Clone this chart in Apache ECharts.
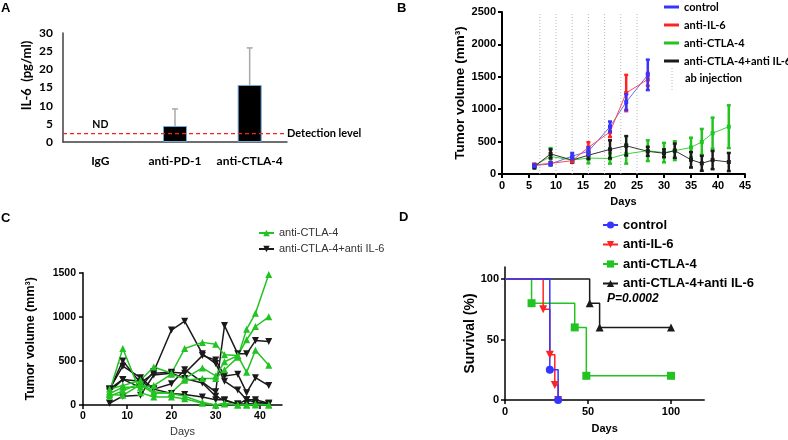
<!DOCTYPE html>
<html><head><meta charset="utf-8">
<script src="https://cdn.jsdelivr.net/npm/echarts@6/dist/echarts.min.js"></script>
<style>html,body{margin:0;padding:0;background:#fff}#c{width:788px;height:440px}</style>
</head><body><div id="c"></div>
<script>
// ---------- Panel A ----------
const aCategories = ['IgG', 'anti-PD-1', 'anti-CTLA-4'];
const aMeans = [null, 4.4, 15.7];
const aErrors = [null, 4.7, 10.2];
const aDetectionLevel = 2.3;
const aNDLevel = 4.7;
const aYTicks = [0, 30, 5];

// ---------- Panel B ----------
const bInjectionDays = [7, 10, 13, 16, 19, 22, 25];
const bDaysShort = [6, 9, 13, 16, 20, 23, 27];
const bDaysLong = [6, 9, 13, 16, 20, 23, 27, 30, 32, 35, 37, 39, 42];
const bControlMean = [130, 155, 275, 350, 730, 1110, 1530];
const bControlErr  = [20, 25, 50, 60, 80, 120, 235];
const bIL6Mean = [140, 165, 205, 410, 650, 1250, 1460];
const bIL6Err  = [20, 20, 25, 80, 80, 280, 100];
const bCTLA4Mean = [130, 270, 215, 245, 240, 310, 360, 330, 360, 410, 495, 630, 730];
const bCTLA4Err  = [20, 130, 40, 80, 80, 150, 160, 150, 145, 150, 200, 240, 330];
const bComboMean = [115, 310, 215, 290, 380, 435, 350, 320, 360, 220, 165, 215, 185];
const bComboErr  = [30, 70, 40, 60, 140, 150, 70, 60, 110, 120, 115, 140, 140];

// ---------- Panel C ----------
const cDays = [6, 9, 13, 16, 20, 23, 27, 30, 32, 35, 37, 39, 42];
const cCTLA4Mouse1 = [120, 110, 230, 130, 140, 280, 300, 300, 400, 540, 860, 1040, 1480];
const cCTLA4Mouse2 = [180, 220, 280, 430, 360, 640, 710, 690, 570, 560, 740, 890, 1000];
const cCTLA4Mouse3 = [130, 200, 200, 220, 350, 300, 420, 330, 490, 560, 370, 620, 450];
const cCTLA4Mouse4 = [150, 640, 140, 90, 90, 70, 20, 0, 10, 0, 0, 0, 0];
const cCTLA4Mouse5 = [100, 160, 250, 150, 130, 100, 30, 0, 20, 0, 0, 10, 0];
const cComboMouse1 = [180, 290, 200, 380, 850, 950, 580, 470, 270, 170, 60, 30, 20];
const cComboMouse2 = [180, 440, 310, 180, 240, 400, 260, 150, 900, 580, 580, 730, 720];
const cComboMouse3 = [170, 500, 250, 360, 370, 360, 560, 510, 330, 350, 140, 310, 220];
const cComboMouse4 = [150, 290, 270, 180, 130, 120, 90, 60, 60, 10, 10, 20, 10];
const cComboMouse5 = [20, 100, 110, 340, 360, 300, 250, 100, 50, 10, 60, 60, 20];

// ---------- Panel D ----------
const dControlDays = [0, 27, 32];
const dControlSurv = [100, 25, 0];
const dIL6Days = [0, 23, 27, 30, 32];
const dIL6Surv = [100, 75, 37.5, 12.5, 0];
const dCTLA4Days = [0, 16, 42, 49, 100];
const dCTLA4Surv = [100, 80, 60, 20, 20];
const dComboDays = [0, 51, 57, 100];
const dComboSurv = [100, 80, 60, 60];
const dTicks = [0, 50, 100];
const cXTicks = [0, 10, 20, 30, 40];

// ---------- colours / fonts ----------
const ARIAL = 'Liberation Sans';
const CAL = 'Lato';
const BLUE = '#3535ff', RED = '#ff2424', GREEN = '#22c322', BLACK = '#1a1a1a';
const plain = v => String(v);

const chart = echarts.init(document.getElementById('c'));

function pairs(xs, ys) { return xs.map((x, i) => [x, ys[i]]); }
function triples(xs, ys, es) { return xs.map((x, i) => [x, ys[i], es[i]]); }

function errBar(color, lw, capW, mark, upOnly) {
  return function (params, api) {
    const x = api.value(0), m = api.value(1), e = api.value(2);
    const top = api.coord([x, m + e]);
    const mid = api.coord([x, m]);
    const bot = upOnly ? mid : api.coord([x, m - e]);
    const st = { stroke: color, lineWidth: lw };
    const ch = [
      { type: 'line', shape: { x1: top[0], y1: top[1], x2: bot[0], y2: bot[1] }, style: st },
      { type: 'line', shape: { x1: top[0] - capW / 2, y1: top[1], x2: top[0] + capW / 2, y2: top[1] }, style: st }
    ];
    if (!upOnly) ch.push({ type: 'line', shape: { x1: bot[0] - capW / 2, y1: bot[1], x2: bot[0] + capW / 2, y2: bot[1] }, style: st });
    if (mark) ch.push({ type: 'rect', shape: { x: mid[0] - mark / 2, y: mid[1] - mark / 2, width: mark, height: mark }, style: { fill: color } });
    return { type: 'group', children: ch };
  };
}

const downTri = 'path://M0,0 L10,0 L5,9 Z';

function axisCommon(width, color) {
  return {
    axisLine: { show: true, onZero: false, lineStyle: { color: color || '#000', width: width } },
    axisTick: { show: true, inside: false, length: 4, lineStyle: { color: color || '#000', width: width } },
    splitLine: { show: false }
  };
}

function cSeries(name, data, color, symbol) {
  return {
    type: 'line', name: name, xAxisIndex: 2, yAxisIndex: 2,
    data: pairs(cDays, data), color: color,
    lineStyle: { width: 1.5, color: color }, symbol: symbol, symbolSize: 7,
    itemStyle: { color: color }, z: 3
  };
}

function kmSeries(name, days, surv, color, symbol, size) {
  return {
    type: 'line', name: name, xAxisIndex: 3, yAxisIndex: 3, step: 'end',
    data: days.map((d, i) => i === 0 ? { value: [d, surv[i]], symbol: 'none' } : [d, surv[i]]),
    color: color, lineStyle: { width: 1.5, color: color }, itemStyle: { color: color },
    symbol: symbol, symbolSize: size, z: 3
  };
}

const tickLblB = { fontFamily: ARIAL, fontWeight: 'bold', fontSize: 11, color: '#000', formatter: plain };

const option = {
  animation: false,
  backgroundColor: '#fff',
  grid: [
    { left: 63, top: 33, width: 224, height: 109 },
    { left: 502, top: 12, width: 243, height: 162 },
    { left: 83, top: 272.7, width: 199, height: 132.3 },
    { left: 505, top: 266.9, width: 199.2, height: 133.1 }
  ],
  xAxis: [
    Object.assign(axisCommon(1.5, '#404040'), {
      type: 'category', gridIndex: 0, data: aCategories,
      axisTick: { show: false },
      axisLabel: { interval: 0, fontFamily: CAL, fontWeight: 'bold', fontSize: 12, color: '#000', margin: 13 }
    }),
    Object.assign(axisCommon(2), {
      type: 'value', gridIndex: 1, min: 0, max: 45, interval: 5,
      axisLabel: Object.assign({ margin: 6 }, tickLblB),
      name: 'Days', nameLocation: 'middle', nameGap: 22,
      nameTextStyle: { fontFamily: ARIAL, fontWeight: 'bold', fontSize: 11, color: '#000' }
    }),
    Object.assign(axisCommon(1.5), {
      type: 'value', gridIndex: 2, min: 0, max: 45,
      axisTick: { show: true, length: 4, customValues: cXTicks, lineStyle: { color: '#000', width: 1.5 } },
      axisLabel: { customValues: cXTicks, formatter: plain, margin: 6, fontFamily: ARIAL, fontWeight: 'bold', fontSize: 10.5, color: '#000' },
      name: 'Days', nameLocation: 'middle', nameGap: 21,
      nameTextStyle: { fontFamily: ARIAL, fontSize: 11, color: '#333' }
    }),
    Object.assign(axisCommon(1.5), {
      type: 'value', gridIndex: 3, min: 0, max: 120,
      axisTick: { show: true, length: 4, customValues: dTicks, lineStyle: { color: '#000', width: 1.5 } },
      axisLabel: { customValues: dTicks, formatter: plain, margin: 6, fontFamily: ARIAL, fontWeight: 'bold', fontSize: 11, color: '#000' },
      name: 'Days', nameLocation: 'middle', nameGap: 23,
      nameTextStyle: { fontFamily: ARIAL, fontWeight: 'bold', fontSize: 11, color: '#000' }
    })
  ],
  yAxis: [
    Object.assign(axisCommon(1.5, '#404040'), {
      type: 'value', gridIndex: 0, min: aYTicks[0], max: aYTicks[1], interval: aYTicks[2],
      axisTick: { show: false },
      axisLabel: { formatter: plain, fontFamily: CAL, fontWeight: 'bold', fontSize: 12, color: '#000', margin: 10 },
      name: 'IL-6  (pg/ml)', nameLocation: 'middle', nameGap: 30,
      nameTextStyle: { fontFamily: CAL, fontWeight: 'bold', fontSize: 13, color: '#000', padding: [0, 0, 0, 24] }
    }),
    Object.assign(axisCommon(2), {
      type: 'value', gridIndex: 1, min: 0, max: 2500, interval: 500,
      axisLabel: Object.assign({ margin: 6 }, tickLblB),
      name: 'Tumor volume (mm³)', nameLocation: 'middle', nameGap: 28,
      nameTextStyle: { fontFamily: ARIAL, fontWeight: 'bold', fontSize: 13.5, color: '#000' }
    }),
    Object.assign(axisCommon(1.5), {
      type: 'value', gridIndex: 2, min: 0, max: 1500, interval: 500,
      axisLabel: { formatter: plain, margin: 7, fontFamily: ARIAL, fontWeight: 'bold', fontSize: 10.5, color: '#000' },
      name: 'Tumor volume (mm³)', nameLocation: 'middle', nameGap: 46,
      nameTextStyle: { fontFamily: ARIAL, fontWeight: 'bold', fontSize: 12.5, color: '#000' }
    }),
    Object.assign(axisCommon(1.5), {
      type: 'value', gridIndex: 3, min: 0, max: 110,
      axisTick: { show: true, length: 4, customValues: dTicks, lineStyle: { color: '#000', width: 1.5 } },
      axisLabel: { customValues: dTicks, formatter: plain, margin: 6, fontFamily: ARIAL, fontWeight: 'bold', fontSize: 11, color: '#000' },
      name: 'Survival (%)', nameLocation: 'middle', nameGap: 28,
      nameTextStyle: { fontFamily: ARIAL, fontWeight: 'bold', fontSize: 14, color: '#000' }
    })
  ],
  legend: [
    {
      left: 664, top: 0, orient: 'vertical', padding: 0, itemGap: 4, itemWidth: 15, itemHeight: 3,
      icon: 'rect', selectedMode: false,
      data: ['control', 'anti-IL-6', 'anti-CTLA-4', 'anti-CTLA-4+anti IL-6'],
      textStyle: { fontFamily: CAL, fontWeight: 'bold', fontSize: 11, color: '#000', lineHeight: 14 }
    },
    {
      left: 258, top: 226.5, orient: 'vertical', padding: 0, itemGap: 3, itemWidth: 15, itemHeight: 8,
      selectedMode: false,
      data: ['C:anti-CTLA-4', 'C:anti-CTLA-4+anti IL-6'],
      formatter: n => n.replace(/^[CD]:/, ''),
      textStyle: { fontFamily: ARIAL, fontSize: 11, color: '#333', lineHeight: 13 }
    },
    {
      left: 602, top: 217, orient: 'vertical', padding: 0, itemGap: 3.5, itemWidth: 15, itemHeight: 9,
      selectedMode: false,
      data: ['D:control', 'D:anti-IL-6', 'D:anti-CTLA-4', 'D:anti-CTLA-4+anti IL-6'],
      formatter: n => n.replace(/^[CD]:/, ''),
      textStyle: { fontFamily: ARIAL, fontWeight: 'bold', fontSize: 13, color: '#000', lineHeight: 16 }
    }
  ],
  series: [
    // Panel A
    {
      type: 'bar', name: 'IL-6', xAxisIndex: 0, yAxisIndex: 0, data: aMeans, barWidth: 24,
      itemStyle: { color: '#000', borderColor: '#6fa8dc', borderWidth: 1 },
      markPoint: {
        silent: true,
        data: [{ coord: [aCategories[0], aNDLevel], symbolSize: 0,
          label: { show: true, position: 'inside', formatter: 'ND', fontFamily: CAL, fontWeight: 'bold', fontSize: 10.5, color: '#000' } }]
      }
    },
    {
      type: 'custom', name: 'A-detection', xAxisIndex: 0, yAxisIndex: 0, z: 5, silent: true,
      data: [[0, aDetectionLevel]],
      renderItem: function (params, api) {
        const p = api.coord([0, api.value(1)]);
        const cs = params.coordSys;
        return { type: 'group', children: [
          { type: 'line', shape: { x1: cs.x, y1: p[1], x2: cs.x + cs.width - 2, y2: p[1] },
            style: { stroke: '#ff1e1e', lineWidth: 1.2, lineDash: [4, 3] } },
          { type: 'text', x: cs.x + cs.width, y: p[1],
            style: { text: 'Detection level', font: 'bold 11px Lato', fill: '#000', textVerticalAlign: 'middle', verticalAlign: 'middle' } }
        ] };
      }
    },
    {
      type: 'custom', name: 'A-err', xAxisIndex: 0, yAxisIndex: 0, z: 4,
      data: aCategories.map((c, i) => [c, aMeans[i], aErrors[i]]).filter(d => d[1] != null),
      renderItem: errBar('#a8a8a8', 1.5, 6, 0, true)
    },
    // Panel B
    {
      type: 'custom', name: 'ab injection', xAxisIndex: 1, yAxisIndex: 1, silent: true, z: 1,
      data: bInjectionDays.map(d => [d]),
      renderItem: function (params, api) {
        const p = api.coord([api.value(0), 0]);
        return { type: 'line', shape: { x1: p[0], y1: p[1], x2: p[0], y2: params.coordSys.y },
          style: { stroke: '#b8b8b8', lineWidth: 1, lineDash: [1, 2] } };
      }
    },
    { type: 'line', name: 'control', xAxisIndex: 1, yAxisIndex: 1, data: pairs(bDaysShort, bControlMean), color: BLUE, showSymbol: false, symbol: 'none', lineStyle: { width: 1, color: '#6a6aff' }, z: 2 },
    { type: 'line', name: 'anti-IL-6', xAxisIndex: 1, yAxisIndex: 1, data: pairs(bDaysShort, bIL6Mean), color: RED, showSymbol: false, symbol: 'none', lineStyle: { width: 1, color: '#ff4a4a' }, z: 2 },
    { type: 'line', name: 'anti-CTLA-4', xAxisIndex: 1, yAxisIndex: 1, data: pairs(bDaysLong, bCTLA4Mean), color: GREEN, showSymbol: false, symbol: 'none', lineStyle: { width: 1, color: '#3bd23b' }, z: 2 },
    { type: 'line', name: 'anti-CTLA-4+anti IL-6', xAxisIndex: 1, yAxisIndex: 1, data: pairs(bDaysLong, bComboMean), color: BLACK, showSymbol: false, symbol: 'none', lineStyle: { width: 1, color: '#333' }, z: 2 },
    { type: 'custom', name: 'B-err-ctla4', xAxisIndex: 1, yAxisIndex: 1, z: 3, data: triples(bDaysLong, bCTLA4Mean, bCTLA4Err), renderItem: errBar(GREEN, 2.5, 4, 4) },
    { type: 'custom', name: 'B-err-combo', xAxisIndex: 1, yAxisIndex: 1, z: 3, data: triples(bDaysLong, bComboMean, bComboErr), renderItem: errBar(BLACK, 2.5, 4, 4) },
    { type: 'custom', name: 'B-err-il6', xAxisIndex: 1, yAxisIndex: 1, z: 3, data: triples(bDaysShort, bIL6Mean, bIL6Err), renderItem: errBar(RED, 2.5, 4, 4) },
    { type: 'custom', name: 'B-err-control', xAxisIndex: 1, yAxisIndex: 1, z: 3, data: triples(bDaysShort, bControlMean, bControlErr), renderItem: errBar(BLUE, 2.5, 4, 4) },
    // Panel C
    cSeries('C:anti-CTLA-4+anti IL-6', cComboMouse1, BLACK, downTri),
    cSeries('C:anti-CTLA-4+anti IL-6', cComboMouse2, BLACK, downTri),
    cSeries('C:anti-CTLA-4+anti IL-6', cComboMouse3, BLACK, downTri),
    cSeries('C:anti-CTLA-4+anti IL-6', cComboMouse4, BLACK, downTri),
    cSeries('C:anti-CTLA-4+anti IL-6', cComboMouse5, BLACK, downTri),
    cSeries('C:anti-CTLA-4', cCTLA4Mouse1, GREEN, 'triangle'),
    cSeries('C:anti-CTLA-4', cCTLA4Mouse2, GREEN, 'triangle'),
    cSeries('C:anti-CTLA-4', cCTLA4Mouse3, GREEN, 'triangle'),
    cSeries('C:anti-CTLA-4', cCTLA4Mouse4, GREEN, 'triangle'),
    cSeries('C:anti-CTLA-4', cCTLA4Mouse5, GREEN, 'triangle'),
    // Panel D
    kmSeries('D:anti-CTLA-4+anti IL-6', dComboDays, dComboSurv, BLACK, 'triangle', 8),
    kmSeries('D:anti-CTLA-4', dCTLA4Days, dCTLA4Surv, GREEN, 'rect', 8),
    kmSeries('D:anti-IL-6', dIL6Days, dIL6Surv, RED, downTri, 8),
    kmSeries('D:control', dControlDays, dControlSurv, BLUE, 'circle', 8)
  ],
  graphic: [
    { type: 'text', left: 1, top: 2, style: { text: 'A', font: 'bold 13px "Liberation Sans"', fill: '#000' } },
    { type: 'text', left: 397, top: 2, style: { text: 'B', font: 'bold 13px "Liberation Sans"', fill: '#000' } },
    { type: 'text', left: 1, top: 212, style: { text: 'C', font: 'bold 13px "Liberation Sans"', fill: '#000' } },
    { type: 'text', left: 399, top: 211, style: { text: 'D', font: 'bold 13px "Liberation Sans"', fill: '#000' } },
    { type: 'line', shape: { x1: 672, y1: 68, x2: 672, y2: 91 }, style: { stroke: '#b8b8b8', lineWidth: 1, lineDash: [1, 2] } },
    { type: 'text', left: 685, top: 73, style: { text: 'ab injection', font: 'bold 11px Lato', fill: '#000' } },
    { type: 'text', left: 607, top: 293, style: { text: 'P=0.0002', font: 'italic bold 12px "Liberation Sans"', fill: '#000' } }
  ]
};
chart.setOption(option);
</script>
</body></html>
